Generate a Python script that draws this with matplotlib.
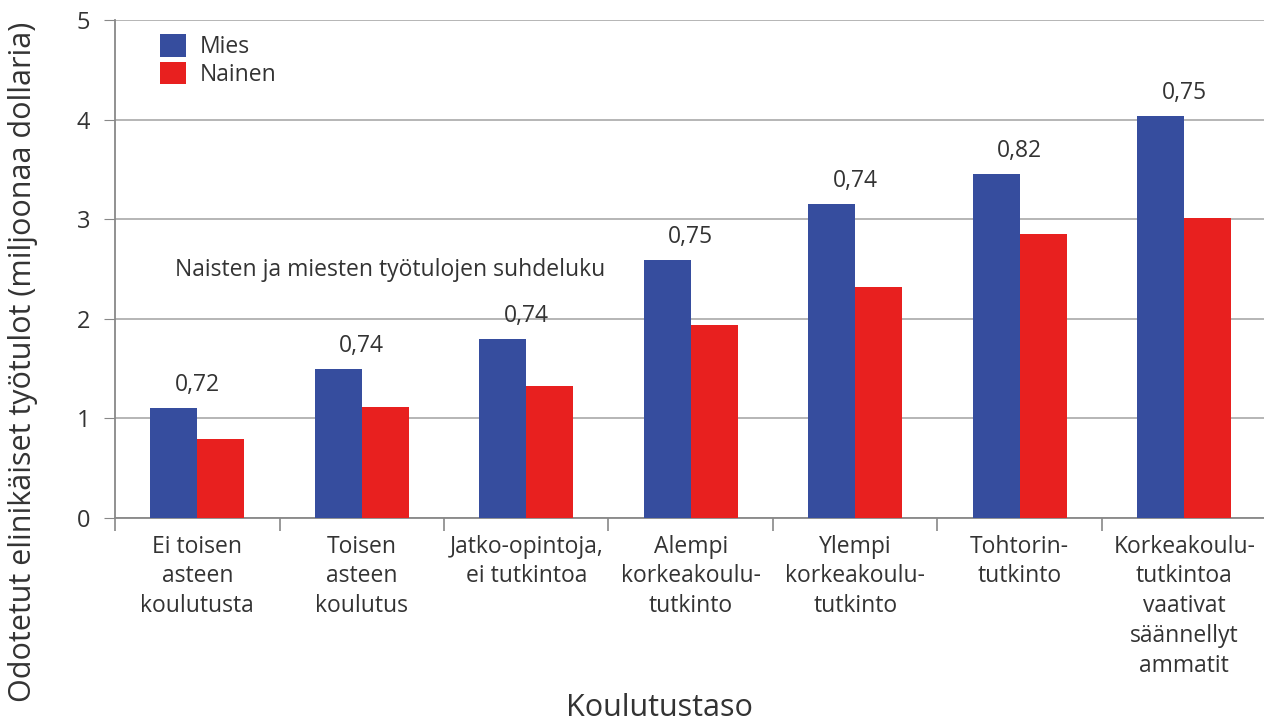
import matplotlib
matplotlib.use('Agg')
import matplotlib.pyplot as plt
import numpy as np

plt.rcParams['font.family'] = ['Open Sans', 'DejaVu Sans']

categories = ['Ei toisen\nasteen\nkoulutusta', 'Toisen\nasteen\nkoulutus',
              'Jatko-opintoja,\nei tutkintoa', 'Alempi\nkorkeakoulu-\ntutkinto',
              'Ylempi\nkorkeakoulu-\ntutkinto', 'Tohtorin-\ntutkinto',
              'Korkeakoulu-\ntutkintoa\nvaativat\nsäännellyt\nammatit']
mies = [1.10, 1.50, 1.80, 2.59, 3.15, 3.45, 4.04]
nainen = [0.79, 1.11, 1.33, 1.94, 2.32, 2.85, 3.01]
ratios = ['0,72', '0,74', '0,74', '0,75', '0,74', '0,82', '0,75']

blue = '#364d9e'
red = '#e8201f'
text_col = '#333333'

fig = plt.figure(figsize=(12.64, 7.24), dpi=100)
ax = fig.add_axes([0.091, 0.2845, 0.909, 0.688])

x = np.arange(len(categories))
w = 0.286
ax.bar(x - w / 2, mies, w, color=blue, label='Mies', zorder=3)
ax.bar(x + w / 2, nainen, w, color=red, label='Nainen', zorder=3)

# ratio labels above each group
for xi, m, r in zip(x, mies, ratios):
    ax.text(xi, m + 0.11, r, ha='center', va='bottom', fontsize=16.5, color=text_col)

ax.text(-0.135, 2.49, 'Naisten ja miesten työtulojen suhdeluku', ha='left', va='center',
        fontsize=16.5, color=text_col)

ax.set_xlim(-0.5, 6.485)
ax.set_ylim(0, 5)
ax.set_yticks([0, 1, 2, 3, 4, 5])
ax.yaxis.grid(True, color='#b0b0b0', linewidth=1.3, zorder=0)
ax.tick_params(axis='y', labelsize=17, colors=text_col, length=8, color='#888888', pad=10)

# category boundaries as ticks, labels at minor ticks in the middle
ax.set_xticks(np.arange(-0.5, 6.5, 1))
ax.set_xticklabels([])
ax.tick_params(axis='x', which='major', length=9, color='#888888', width=1.2)
ax.set_xticks(x, minor=True)
ax.set_xticklabels(categories, minor=True, fontsize=16.5, color=text_col, linespacing=1.32)
ax.tick_params(axis='x', which='minor', length=0, pad=12)

for s in ['top', 'right']:
    ax.spines[s].set_visible(False)
for s in ['left', 'bottom']:
    ax.spines[s].set_color('#888888')
    ax.spines[s].set_linewidth(1.3)

fig.text(0.018, 0.5, 'Odotetut elinikäiset työtulot (miljoonaa dollaria)', rotation=90,
         ha='center', va='center', fontsize=22, color=text_col)
fig.text(0.522, 0.022, 'Koulutustaso', ha='center', va='center', fontsize=22, color=text_col)

ax.legend(loc='upper left', bbox_to_anchor=(0.023, 1.008), frameon=False, fontsize=16.5,
          handlelength=1.15, handleheight=1.15, handletextpad=0.6, labelspacing=0.1,
          labelcolor=text_col, borderpad=0.3)

fig.savefig('out.png', dpi=100)
